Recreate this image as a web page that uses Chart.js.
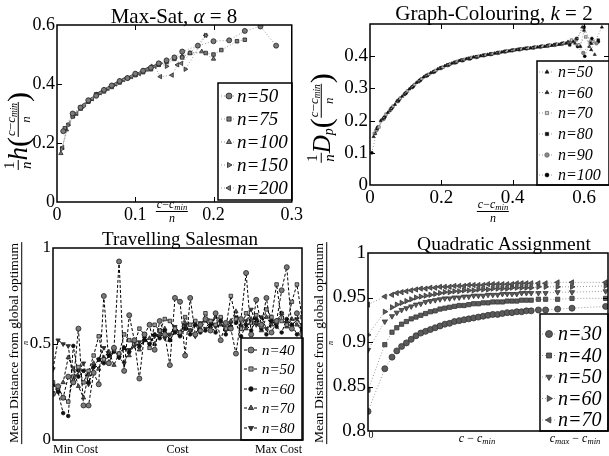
<!DOCTYPE html>
<html>
<head>
<meta charset="utf-8">
<script src="https://cdn.jsdelivr.net/npm/chart.js@4.4.1/dist/chart.umd.min.js"></script>
<style>
  body { margin: 0; background: #fff; width: 609px; height: 456px; position: relative; overflow: hidden;
         font-family: "Liberation Serif", serif; color: #000; }
  canvas { position: absolute; }
  .t { position: absolute; white-space: nowrap; transform: translateX(-50%); line-height: 1; }
  .rot { position: absolute; white-space: nowrap; display: flex; align-items: center; line-height: 1;
         transform: translate(-50%, -50%) rotate(-90deg); }
  .fr { display: inline-flex; flex-direction: column; align-items: center; vertical-align: middle; line-height: 1.05; }
  .fr > span:first-child { border-bottom: 1px solid #000; padding: 0 1px; }
  sub { font-size: 0.72em; vertical-align: -0.25em; line-height: 0; }
</style>
</head>
<body>
<canvas id="c1" width="305" height="228" style="left:0;top:0"></canvas>
<canvas id="c2" width="304" height="228" style="left:305px;top:0"></canvas>
<canvas id="c3" width="305" height="228" style="left:0;top:228px"></canvas>
<canvas id="c4" width="304" height="228" style="left:305px;top:228px"></canvas>

<!-- titles -->
<div class="t" style="left:174px;top:6px;font-size:21px">Max-Sat, <i>α</i> = 8</div>
<div class="t" style="left:494px;top:3px;font-size:21px">Graph-Colouring, <i>k</i> = 2</div>
<div class="t" style="left:180px;top:229px;font-size:19px">Travelling Salesman</div>
<div class="t" style="left:504px;top:234px;font-size:19.5px">Quadratic Assignment</div>

<!-- y labels -->
<div class="rot" style="left:18px;top:131px">
  <span class="fr" style="font-size:15px"><span>1</span><span><i>n</i></span></span><i style="font-size:27px">h</i><span style="font-size:30px">(</span><span class="fr" style="font-size:13px"><span><i>c</i>−<i>c</i><sub><i>min</i></sub></span><span><i>n</i></span></span><span style="font-size:30px">)</span>
</div>
<div class="rot" style="left:321px;top:118px">
  <span class="fr" style="font-size:15px"><span>1</span><span><i>n</i></span></span><span><i style="font-size:25px">D</i><sub style="font-size:14px"><i>p</i></sub></span><span style="font-size:30px">(</span><span class="fr" style="font-size:13px"><span><i>c</i>−<i>c</i><sub><i>min</i></sub></span><span><i>n</i></span></span><span style="font-size:30px">)</span>
</div>
<div class="rot" style="left:19px;top:343px">
  <span class="fr" style="font-size:13.5px"><span>Mean Distance from global optimum</span><span style="font-size:8px"><i>n</i></span></span>
</div>
<div class="rot" style="left:324px;top:343px">
  <span class="fr" style="font-size:13.5px"><span>Mean Distance from global optimum</span><span style="font-size:8px"><i>n</i></span></span>
</div>

<!-- x labels -->
<div class="t" style="left:172px;top:198px"><span class="fr" style="font-size:12px"><span><i>c</i>−<i>c</i><sub><i>min</i></sub></span><span><i>n</i></span></span></div>
<div class="t" style="left:493px;top:198px"><span class="fr" style="font-size:12px"><span><i>c</i>−<i>c</i><sub><i>min</i></sub></span><span><i>n</i></span></span></div>
<div class="t" style="left:371px;top:430px;font-size:10px">0</div>
<div class="t" style="left:477px;top:432px;font-size:12px"><i>c</i> − <i>c</i><sub><i>min</i></sub></div>
<div class="t" style="left:575px;top:432px;font-size:12px"><i>c</i><sub><i>max</i></sub> − <i>c</i><sub><i>min</i></sub></div>

<script>
// ---------- Max-Sat, alpha = 8 ----------
const msX50  = [0.008, 0.02, 0.03, 0.04, 0.05, 0.06, 0.07, 0.08, 0.09, 0.1, 0.11, 0.12, 0.13, 0.14, 0.15, 0.16, 0.18, 0.2, 0.22, 0.24, 0.26, 0.28];
const msY50  = [0.24, 0.3, 0.32, 0.345, 0.36, 0.38, 0.395, 0.41, 0.42, 0.435, 0.445, 0.455, 0.47, 0.48, 0.49, 0.51, 0.53, 0.545, 0.548, 0.58, 0.595, 0.53];
const msX75  = [0.01, 0.02, 0.03, 0.04, 0.05, 0.06, 0.07, 0.08, 0.09, 0.1, 0.11, 0.12, 0.13, 0.14, 0.15, 0.16, 0.17, 0.19, 0.2, 0.21, 0.23, 0.24];
const msY75  = [0.25, 0.29, 0.32, 0.34, 0.365, 0.375, 0.39, 0.405, 0.42, 0.43, 0.44, 0.45, 0.465, 0.475, 0.485, 0.49, 0.505, 0.505, 0.5, 0.515, 0.545, 0.55];
const msX100 = [0.005, 0.012, 0.02, 0.03, 0.04, 0.05, 0.06, 0.07, 0.08, 0.09, 0.1, 0.11, 0.12, 0.13, 0.14, 0.15, 0.16, 0.17, 0.185, 0.2];
const msY100 = [0.165, 0.245, 0.29, 0.315, 0.34, 0.36, 0.38, 0.395, 0.41, 0.42, 0.43, 0.445, 0.455, 0.465, 0.48, 0.49, 0.495, 0.505, 0.51, 0.485];
const msX150 = [0.006, 0.014, 0.022, 0.032, 0.042, 0.052, 0.062, 0.072, 0.082, 0.092, 0.102, 0.112, 0.122, 0.132, 0.14, 0.15, 0.164, 0.19];
const msY150 = [0.18, 0.26, 0.295, 0.32, 0.345, 0.365, 0.38, 0.395, 0.41, 0.42, 0.435, 0.445, 0.46, 0.47, 0.46, 0.49, 0.45, 0.565];
const msX200 = [0.007, 0.015, 0.025, 0.035, 0.045, 0.055, 0.065, 0.075, 0.085, 0.095, 0.105, 0.115, 0.125, 0.132, 0.147, 0.154, 0.159, 0.19];
const msY200 = [0.185, 0.265, 0.3, 0.33, 0.35, 0.37, 0.385, 0.4, 0.415, 0.425, 0.435, 0.45, 0.46, 0.425, 0.43, 0.465, 0.47, 0.565];
const msXTicks = [0, 0.1, 0.2, 0.3];
const msYTicks = [0, 0.2, 0.4, 0.6];

// ---------- Graph-Colouring, k = 2 ----------
const gcX50  = [0.01, 0.03, 0.05, 0.07, 0.09, 0.11, 0.13, 0.15, 0.17, 0.19, 0.21, 0.23, 0.25, 0.27, 0.29, 0.31, 0.33, 0.35, 0.37, 0.39, 0.41, 0.43, 0.45, 0.47, 0.49, 0.51, 0.53, 0.55, 0.57, 0.59, 0.6, 0.62, 0.65];
const gcY50  = [0.15, 0.2, 0.225, 0.25, 0.275, 0.298, 0.318, 0.335, 0.348, 0.36, 0.37, 0.378, 0.386, 0.392, 0.397, 0.401, 0.405, 0.409, 0.413, 0.416, 0.42, 0.423, 0.425, 0.428, 0.43, 0.433, 0.436, 0.44, 0.445, 0.43, 0.48, 0.42, 0.49];
const gcX60  = [0.015, 0.035, 0.055, 0.075, 0.095, 0.115, 0.135, 0.155, 0.175, 0.195, 0.215, 0.235, 0.255, 0.275, 0.295, 0.315, 0.335, 0.355, 0.375, 0.395, 0.415, 0.435, 0.455, 0.475, 0.495, 0.515, 0.535, 0.555, 0.575, 0.595, 0.615, 0.63];
const gcY60  = [0.16, 0.205, 0.23, 0.26, 0.28, 0.302, 0.32, 0.338, 0.35, 0.362, 0.372, 0.38, 0.388, 0.393, 0.398, 0.402, 0.406, 0.41, 0.414, 0.417, 0.421, 0.424, 0.426, 0.429, 0.432, 0.435, 0.438, 0.445, 0.44, 0.49, 0.43, 0.405];
const gcX70  = [0.012, 0.025, 0.045, 0.065, 0.085, 0.105, 0.125, 0.145, 0.165, 0.185, 0.205, 0.225, 0.245, 0.265, 0.285, 0.305, 0.325, 0.345, 0.365, 0.385, 0.405, 0.425, 0.445, 0.465, 0.485, 0.505, 0.525, 0.545, 0.565, 0.585, 0.605, 0.625];
const gcY70  = [0.16, 0.18, 0.22, 0.245, 0.27, 0.292, 0.312, 0.33, 0.344, 0.356, 0.366, 0.376, 0.384, 0.39, 0.396, 0.4, 0.404, 0.408, 0.412, 0.416, 0.419, 0.422, 0.425, 0.428, 0.431, 0.434, 0.437, 0.44, 0.45, 0.435, 0.46, 0.445];
const gcX80  = [0.02, 0.04, 0.06, 0.08, 0.1, 0.12, 0.14, 0.16, 0.18, 0.2, 0.22, 0.24, 0.26, 0.28, 0.3, 0.32, 0.34, 0.36, 0.38, 0.4, 0.42, 0.44, 0.46, 0.48, 0.5, 0.52, 0.54, 0.56, 0.58, 0.6, 0.62, 0.64];
const gcY80  = [0.175, 0.21, 0.238, 0.262, 0.285, 0.305, 0.325, 0.34, 0.352, 0.364, 0.373, 0.381, 0.387, 0.393, 0.398, 0.403, 0.407, 0.411, 0.415, 0.418, 0.421, 0.424, 0.427, 0.43, 0.433, 0.436, 0.44, 0.435, 0.455, 0.49, 0.44, 0.45];
const gcX90  = [0.018, 0.038, 0.058, 0.078, 0.098, 0.118, 0.138, 0.158, 0.178, 0.198, 0.218, 0.238, 0.258, 0.278, 0.298, 0.318, 0.338, 0.358, 0.378, 0.398, 0.418, 0.438, 0.458, 0.478, 0.498, 0.518, 0.538, 0.558, 0.578, 0.598, 0.618, 0.635];
const gcY90  = [0.17, 0.205, 0.235, 0.26, 0.283, 0.304, 0.323, 0.339, 0.351, 0.363, 0.372, 0.38, 0.387, 0.392, 0.397, 0.402, 0.406, 0.41, 0.414, 0.418, 0.421, 0.424, 0.426, 0.429, 0.432, 0.435, 0.438, 0.442, 0.452, 0.41, 0.445, 0.44];
const gcX100 = [0.005, 0.022, 0.042, 0.062, 0.082, 0.102, 0.122, 0.142, 0.162, 0.182, 0.202, 0.222, 0.242, 0.262, 0.282, 0.302, 0.322, 0.342, 0.362, 0.382, 0.402, 0.422, 0.442, 0.462, 0.482, 0.502, 0.522, 0.542, 0.562, 0.582, 0.602, 0.622, 0.64];
const gcY100 = [0.1, 0.18, 0.212, 0.24, 0.266, 0.287, 0.308, 0.327, 0.342, 0.353, 0.365, 0.374, 0.381, 0.388, 0.393, 0.398, 0.403, 0.407, 0.411, 0.415, 0.419, 0.422, 0.425, 0.428, 0.431, 0.434, 0.437, 0.44, 0.443, 0.43, 0.4, 0.455, 0.445];
const gcXTicks = [0, 0.2, 0.4, 0.6];
const gcYTicks = [0, 0.1, 0.2, 0.3, 0.4];

// ---------- Travelling Salesman (index = cost bin, Min Cost .. Max Cost) ----------
const tsp40 = [0.24, 0.28, 0.22, 0.33, 0.30, 0.58, 0.18, 0.18, 0.35, 0.29, 0.75, 0.40, 0.48, 0.93, 0.36, 0.65, 0.52, 0.32, 0.55, 0.60, 0.47, 0.62, 0.55, 0.39, 0.74, 0.72, 0.44, 0.74, 0.55, 0.60, 0.63, 0.57, 0.66, 0.52, 0.61, 0.58, 0.45, 0.63, 0.87, 0.55, 0.73, 0.60, 0.74, 0.56, 0.62, 0.78, 0.90, 0.58, 0.66, 0.55];
const tsp50 = [0.30, 0.27, 0.22, 0.20, 0.33, 0.38, 0.30, 0.36, 0.44, 0.54, 0.42, 0.40, 0.47, 0.45, 0.55, 0.52, 0.50, 0.58, 0.55, 0.48, 0.60, 0.57, 0.63, 0.62, 0.58, 0.56, 0.64, 0.60, 0.62, 0.57, 0.66, 0.62, 0.60, 0.64, 0.58, 0.75, 0.63, 0.58, 0.66, 0.61, 0.65, 0.59, 0.68, 0.64, 0.81, 0.62, 0.60, 0.72, 0.81, 0.64];
const tsp60 = [0.29, 0.25, 0.14, 0.125, 0.49, 0.33, 0.36, 0.30, 0.38, 0.42, 0.40, 0.44, 0.46, 0.43, 0.48, 0.46, 0.51, 0.49, 0.52, 0.50, 0.55, 0.53, 0.57, 0.52, 0.56, 0.54, 0.58, 0.55, 0.60, 0.56, 0.57, 0.60, 0.56, 0.62, 0.55, 0.59, 0.61, 0.54, 0.60, 0.57, 0.63, 0.58, 0.55, 0.62, 0.59, 0.56, 0.63, 0.60, 0.55, 0.58];
const tsp70 = [0.29, 0.26, 0.30, 0.43, 0.37, 0.28, 0.22, 0.34, 0.40, 0.37, 0.43, 0.46, 0.39, 0.45, 0.48, 0.44, 0.50, 0.47, 0.52, 0.53, 0.50, 0.55, 0.58, 0.52, 0.57, 0.55, 0.61, 0.57, 0.60, 0.58, 0.62, 0.59, 0.64, 0.60, 0.58, 0.62, 0.67, 0.60, 0.58, 0.63, 0.61, 0.57, 0.64, 0.60, 0.62, 0.66, 0.59, 0.63, 0.60, 0.57];
const tsp80 = [0.37, 0.52, 0.50, 0.49, 0.30, 0.36, 0.40, 0.29, 0.38, 0.42, 0.48, 0.44, 0.47, 0.43, 0.40, 0.47, 0.49, 0.51, 0.53, 0.50, 0.54, 0.57, 0.53, 0.55, 0.59, 0.56, 0.60, 0.57, 0.54, 0.61, 0.58, 0.62, 0.59, 0.63, 0.57, 0.61, 0.64, 0.58, 0.62, 0.68, 0.60, 0.64, 0.58, 0.62, 0.60, 0.66, 0.61, 0.59, 0.63, 0.60];
const tspXLabels = ['Min Cost', 'Cost', 'Max Cost'];
const tspYTicks = [0, 0.5, 1];

// ---------- Quadratic Assignment ----------
const qapX  = [0, 7, 10, 12, 14, 16, 18, 20, 22, 24, 26, 28, 30, 32, 34, 36, 38, 40, 42, 44, 46, 48, 50, 52, 54, 56, 58, 60, 62, 64, 66, 68, 71, 74, 79, 85, 99];
const qap30 = [0.822, 0.870, 0.883, 0.890, 0.895, 0.899, 0.903, 0.907, 0.910, 0.912, 0.914, 0.916, 0.918, 0.920, 0.921, 0.923, 0.924, 0.925, 0.926, 0.927, 0.928, 0.929, 0.930, 0.931, 0.931, 0.932, 0.933, 0.933, 0.934, 0.934, 0.935, 0.935, 0.936, 0.936, 0.937, 0.938, 0.940];
const qap40 = [0.846, 0.897, 0.911, 0.916, 0.920, 0.923, 0.926, 0.928, 0.930, 0.932, 0.934, 0.935, 0.937, 0.938, 0.939, 0.940, 0.941, 0.941, 0.942, 0.943, 0.943, 0.944, 0.944, 0.945, 0.945, 0.945, 0.946, 0.946, 0.946, 0.947, 0.947, 0.947, 0.948, 0.948, 0.948, 0.949, 0.949];
const qap50 = [0.891, 0.923, 0.929, 0.933, 0.936, 0.938, 0.940, 0.942, 0.943, 0.945, 0.946, 0.947, 0.948, 0.949, 0.949, 0.950, 0.950, 0.951, 0.951, 0.952, 0.952, 0.952, 0.953, 0.953, 0.953, 0.954, 0.954, 0.954, 0.954, 0.955, 0.955, 0.955, 0.955, 0.955, 0.956, 0.956, 0.957];
const qap60 = [0.908, 0.934, 0.939, 0.942, 0.944, 0.946, 0.948, 0.950, 0.951, 0.952, 0.953, 0.954, 0.955, 0.956, 0.956, 0.957, 0.957, 0.958, 0.958, 0.958, 0.959, 0.959, 0.959, 0.960, 0.960, 0.960, 0.960, 0.961, 0.961, 0.961, 0.961, 0.961, 0.962, 0.962, 0.962, 0.962, 0.963];
const qap70 = [0.942, 0.951, 0.953, 0.955, 0.956, 0.957, 0.958, 0.959, 0.960, 0.960, 0.961, 0.961, 0.962, 0.962, 0.962, 0.963, 0.963, 0.963, 0.964, 0.964, 0.964, 0.964, 0.965, 0.965, 0.965, 0.965, 0.965, 0.965, 0.966, 0.966, 0.966, 0.966, 0.966, 0.966, 0.967, 0.967, 0.967];
const qapYTicks = [0.8, 0.85, 0.9, 0.95, 1];

// ================== helpers ==================
const SERIF = '"Liberation Serif", serif';
const pts = (xs, ys) => xs.map((x, i) => ({ x, y: ys[i] }));
const idx = ys => ys.map((y, i) => ({ x: i, y }));

// Matlab style box round the plot, with tick marks pointing inwards, plus the legend box
const framePlugin = {
  id: 'frame',
  afterDatasetsDraw(chart, args, opts) {
    const { ctx, chartArea: a, scales } = chart;
    ctx.save();
    ctx.strokeStyle = '#000';
    ctx.lineWidth = 1;
    const L = 5;
    ctx.beginPath();
    (opts.xTicks || []).forEach(v => {
      const px = Math.round(scales.x.getPixelForValue(v)) + 0.5;
      if (px <= a.left + 1 || px >= a.right - 1) return;
      ctx.moveTo(px, a.bottom); ctx.lineTo(px, a.bottom - L);
      ctx.moveTo(px, a.top); ctx.lineTo(px, a.top + L);
    });
    (opts.yTicks || []).forEach(v => {
      const py = Math.round(scales.y.getPixelForValue(v)) + 0.5;
      if (py <= a.top + 1 || py >= a.bottom - 1) return;
      ctx.moveTo(a.left, py); ctx.lineTo(a.left + L, py);
      ctx.moveTo(a.right, py); ctx.lineTo(a.right - L, py);
    });
    ctx.stroke();

    // legend
    const lg = opts.legend;
    if (lg) {
      ctx.fillStyle = '#fff';
      ctx.fillRect(lg.x, lg.y, lg.w, lg.h);
      chart.data.datasets.forEach((ds, i) => {
        const ry = lg.rows[i];
        ctx.setLineDash(ds.borderDash || []);
        ctx.strokeStyle = ds.borderColor;
        ctx.lineWidth = ds.borderWidth;
        ctx.beginPath(); ctx.moveTo(lg.x0, ry); ctx.lineTo(lg.x1, ry); ctx.stroke();
        ctx.setLineDash([]);
        ctx.fillStyle = ds.pointBackgroundColor;
        ctx.strokeStyle = ds.pointBorderColor;
        ctx.lineWidth = ds.pointBorderWidth;
        Chart.helpers.drawPoint(ctx, { pointStyle: ds.pointStyle, radius: ds.pointRadius + 0.5,
          borderWidth: ds.pointBorderWidth, rotation: ds.pointRotation || 0 }, lg.mx, ry);
        ctx.fillStyle = '#000';
        ctx.font = 'italic ' + lg.size + 'px ' + SERIF;
        ctx.textBaseline = 'middle';
        ctx.fillText(ds.label, lg.tx, ry + 1);
      });
      ctx.lineWidth = 1.5;
      ctx.strokeStyle = '#000';
      ctx.strokeRect(lg.x, lg.y, lg.w, lg.h);
    }
    ctx.lineWidth = 1.5;
    ctx.strokeRect(a.left, a.top, a.right - a.left, a.bottom - a.top);
    ctx.restore();
  }
};

function axis(min, max, ticks, size, fit, extra) {
  return Object.assign({
    type: 'linear', min, max,
    afterBuildTicks: s => { s.ticks = ticks.map(v => ({ value: v })); },
    afterFit: fit,
    grid: { display: false, drawTicks: false },
    border: { display: false },
    ticks: { color: '#000', padding: 2, maxRotation: 0, autoSkip: false, font: { family: SERIF, size },
             callback: v => String(+v.toFixed(3)) }
  }, extra || {});
}

function series(label, data, style, line) {
  return Object.assign({
    label, data, showLine: true,
    borderColor: line.color, borderWidth: 1, borderDash: line.dash,
    pointRadius: 2.5, pointBorderWidth: 0.8,
    pointBackgroundColor: '#7a7a7a', pointBorderColor: '#222'
  }, style);
}

function makeChart(id, datasets, scales, padding, frame) {
  return new Chart(document.getElementById(id), {
    type: 'scatter',
    data: { datasets },
    options: {
      responsive: false, animation: false, devicePixelRatio: 1,
      layout: { padding, autoPadding: false },
      scales,
      plugins: { legend: { display: false }, tooltip: { enabled: false }, frame }
    },
    plugins: [framePlugin]
  });
}

const dotted = { color: '#9a9a9a', dash: [1, 2] };
const dashed = { color: '#000', dash: [3, 2] };

// ================== 1. Max-Sat ==================
makeChart('c1', [
  series('n=50', pts(msX50, msY50), { pointStyle: 'circle' }, dotted),
  series('n=75', pts(msX75, msY75), { pointStyle: 'rect' }, dotted),
  series('n=100', pts(msX100, msY100), { pointStyle: 'triangle' }, dotted),
  series('n=150', pts(msX150, msY150), { pointStyle: 'triangle', pointRotation: 90 }, dotted),
  series('n=200', pts(msX200, msY200), { pointStyle: 'triangle', pointRotation: 270 }, dotted)
], {
  x: axis(0, 0.3, msXTicks, 18, s => { s.height = 26; }),
  y: axis(0, 0.6, msYTicks, 18, s => { s.width = 57; })
}, { left: 0, top: 25, right: 12, bottom: 0 }, {
  xTicks: msXTicks, yTicks: msYTicks,
  legend: { x: 218, y: 83, w: 74, h: 117, rows: [96, 119, 142, 165, 188], x0: 221, x1: 236, mx: 229, tx: 237, size: 19 }
});

// ================== 2. Graph-Colouring ==================
const gcSmall = { pointRadius: 1.8, pointBorderWidth: 0.6 };
makeChart('c2', [
  series('n=50', pts(gcX50, gcY50), Object.assign({ pointStyle: 'triangle', pointBackgroundColor: '#111', pointBorderColor: '#111' }, gcSmall), dotted),
  series('n=60', pts(gcX60, gcY60), Object.assign({ pointStyle: 'triangle', pointBackgroundColor: '#222', pointBorderColor: '#222' }, gcSmall), dotted),
  series('n=70', pts(gcX70, gcY70), Object.assign({ pointStyle: 'rect', pointBackgroundColor: '#d0d0d0', pointBorderColor: '#444' }, gcSmall), dotted),
  series('n=80', pts(gcX80, gcY80), Object.assign({ pointStyle: 'rect', pointBackgroundColor: '#111', pointBorderColor: '#111' }, gcSmall), dotted),
  series('n=90', pts(gcX90, gcY90), Object.assign({ pointStyle: 'circle', pointBackgroundColor: '#888', pointBorderColor: '#555' }, gcSmall), dotted),
  series('n=100', pts(gcX100, gcY100), { pointStyle: 'circle', pointRadius: 1.5, pointBorderWidth: 0.5, pointBackgroundColor: '#000', pointBorderColor: '#000' }, dotted)
], {
  x: axis(0, 0.67, gcXTicks, 19, s => { s.height = 43; }),
  y: axis(0, 0.5, gcYTicks, 19, s => { s.width = 65; })
}, { left: 0, top: 24, right: 0, bottom: 0 }, {
  xTicks: gcXTicks, yTicks: gcYTicks,
  legend: { x: 232, y: 61, w: 80, h: 124, rows: [72, 92.5, 113, 134, 155, 175], x0: 234, x1: 249, mx: 242, tx: 253, size: 16 }
});

// ================== 3. Travelling Salesman ==================
const tspTicks = [0, (tsp40.length - 1) / 2, tsp40.length - 1];
makeChart('c3', [
  series('n=40', idx(tsp40), { pointStyle: 'circle' }, dashed),
  series('n=50', idx(tsp50), { pointStyle: 'rect', pointBackgroundColor: '#999' }, dashed),
  series('n=60', idx(tsp60), { pointStyle: 'circle', pointRadius: 1.8, pointBackgroundColor: '#111', pointBorderColor: '#111' }, dashed),
  series('n=70', idx(tsp70), { pointStyle: 'triangle', pointBackgroundColor: '#555' }, dashed),
  series('n=80', idx(tsp80), { pointStyle: 'triangle', pointRotation: 180, pointBackgroundColor: '#333' }, dashed)
], {
  x: axis(0, tsp40.length - 1, tspTicks, 12, s => { s.height = 16; },
    { ticks: { color: '#000', padding: 3, maxRotation: 0, autoSkip: false, align: 'inner', font: { family: SERIF, size: 12 },
               callback: (v, i) => tspXLabels[i] } }),
  y: axis(0, 1, tspYTicks, 17, s => { s.width = 53; })
}, { left: 0, top: 20, right: 2, bottom: 0 }, {
  xTicks: [], yTicks: tspYTicks,
  legend: { x: 241, y: 110, w: 62, h: 102, rows: [122, 141, 161, 180, 200], x0: 244, x1: 259, mx: 251, tx: 262, size: 15 }
});

// ================== 4. Quadratic Assignment ==================
const qapStyle = { pointRadius: 3, pointBackgroundColor: '#5a5a5a', pointBorderColor: '#333' };
makeChart('c4', [
  series('n=30', pts(qapX, qap30), Object.assign({ pointStyle: 'circle' }, qapStyle), dotted),
  series('n=40', pts(qapX, qap40), Object.assign({ pointStyle: 'rect' }, qapStyle), dotted),
  series('n=50', pts(qapX, qap50), Object.assign({ pointStyle: 'triangle', pointRotation: 180 }, qapStyle), dotted),
  series('n=60', pts(qapX, qap60), Object.assign({ pointStyle: 'triangle', pointRotation: 90 }, qapStyle), dotted),
  series('n=70', pts(qapX, qap70), Object.assign({ pointStyle: 'triangle', pointRotation: 270 }, qapStyle), dotted)
], {
  x: { type: 'linear', min: 0, max: 100, display: false },
  y: axis(0.8, 1, qapYTicks, 19, s => { s.width = 63; })
}, { left: 0, top: 25, right: 1, bottom: 25 }, {
  xTicks: [], yTicks: qapYTicks,
  legend: { x: 235, y: 86, w: 68, h: 117, rows: [106, 127.5, 149, 170.5, 192], x0: 237, x1: 250, mx: 244, tx: 253, size: 20 }
});
</script>
</body>
</html>
